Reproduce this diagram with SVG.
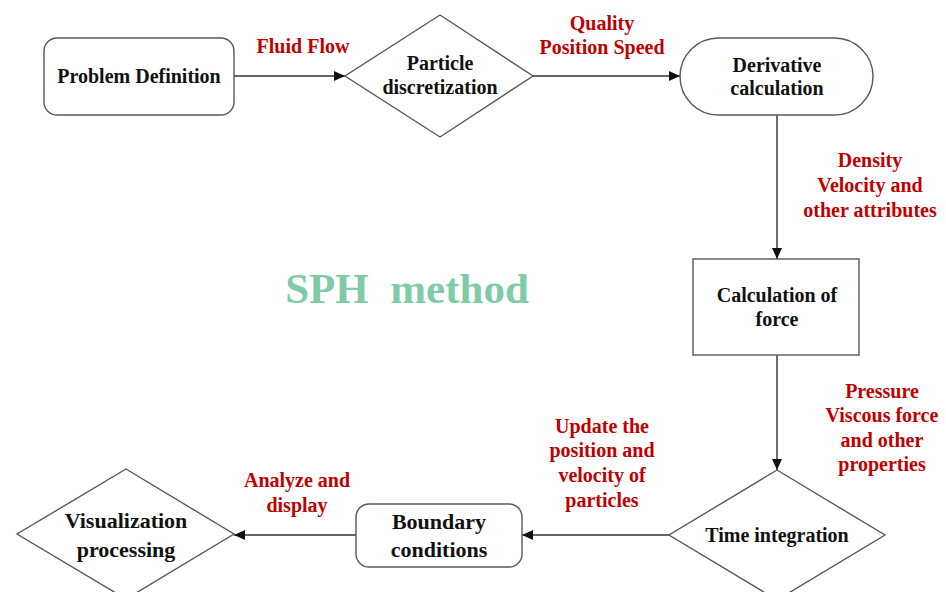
<svg xmlns="http://www.w3.org/2000/svg" width="946" height="592" viewBox="0 0 946 592">
<style>
.shape{fill:#fff;stroke:#595959;stroke-width:1.4}
.t{font-family:"Liberation Serif","Times New Roman",serif;font-weight:bold;font-size:20px;fill:#111;text-anchor:middle}
.big{font-size:22px}
.l{font-family:"Liberation Serif","Times New Roman",serif;font-weight:bold;font-size:20px;fill:#c00000;text-anchor:middle}
.c{stroke:#333;stroke-width:1.4;fill:none;marker-end:url(#ah)}
</style>
<defs>
<marker id="ah" markerWidth="12" markerHeight="10" refX="11" refY="5" orient="auto" markerUnits="userSpaceOnUse">
<path d="M0,0 L11,5 L0,10 Z" fill="#111"/>
</marker>
</defs>
<rect width="946" height="592" fill="#fff"/>
<g id="connectors">
<line class="c" x1="234" y1="76" x2="345" y2="76"/>
<line class="c" x1="533" y1="76" x2="680" y2="76"/>
<line class="c" x1="777" y1="115" x2="777" y2="259"/>
<line class="c" x1="777" y1="355" x2="777" y2="470"/>
<line class="c" x1="669" y1="535" x2="522" y2="535"/>
<line class="c" x1="356" y1="535" x2="234" y2="535"/>
</g>
<g id="labels">
<text class="l" x="303" y="53">Fluid Flow</text>
<text class="l" x="602" y="30">Quality</text>
<text class="l" x="602" y="54">Position Speed</text>
<text class="l" x="870" y="167">Density</text>
<text class="l" x="870" y="192">Velocity and</text>
<text class="l" x="870" y="217">other attributes</text>
<text class="l" x="882" y="398">Pressure</text>
<text class="l" x="882" y="422">Viscous force</text>
<text class="l" x="882" y="447">and other</text>
<text class="l" x="882" y="471">properties</text>
<text class="l" x="602" y="433">Update the</text>
<text class="l" x="602" y="457">position and</text>
<text class="l" x="602" y="482">velocity of</text>
<text class="l" x="602" y="507">particles</text>
<text class="l" x="297" y="487">Analyze and</text>
<text class="l" x="297" y="512">display</text>
</g>
<g id="title">
<text x="407" y="303" style="white-space:pre" font-family="'Liberation Serif','Times New Roman',serif" font-weight="bold" font-size="43" fill="#7fcba8" text-anchor="middle">SPH  method</text>
</g>
<g id="problem-definition">
<rect class="shape" x="44" y="38" width="190" height="77" rx="13"/>
<text class="t" x="139" y="83">Problem Definition</text>
</g>
<g id="particle-discretization">
<polygon class="shape" points="440,15 533,76 440,137 345,76"/>
<text class="t" x="440" y="70">Particle</text>
<text class="t" x="440" y="94">discretization</text>
</g>
<g id="derivative-calculation">
<rect class="shape" x="680" y="38" width="193" height="77" rx="38.5"/>
<text class="t" x="777" y="72">Derivative</text>
<text class="t" x="777" y="95">calculation</text>
</g>
<g id="calculation-of-force">
<rect class="shape" x="693" y="259" width="166" height="96"/>
<text class="t" x="777" y="302">Calculation of</text>
<text class="t" x="777" y="326">force</text>
</g>
<g id="time-integration">
<polygon class="shape" points="777,470 885,535 777,600 669,535"/>
<text class="t" x="777" y="542">Time integration</text>
</g>
<g id="boundary-conditions">
<rect class="shape" x="356" y="504" width="166" height="63" rx="13"/>
<text class="t big" x="439" y="529">Boundary</text>
<text class="t big" x="439" y="557">conditions</text>
</g>
<g id="visualization-processing">
<polygon class="shape" points="126,469 234,534 126,599 17,534"/>
<text class="t big" x="126" y="528">Visualization</text>
<text class="t big" x="126" y="557">processing</text>
</g>
</svg>
